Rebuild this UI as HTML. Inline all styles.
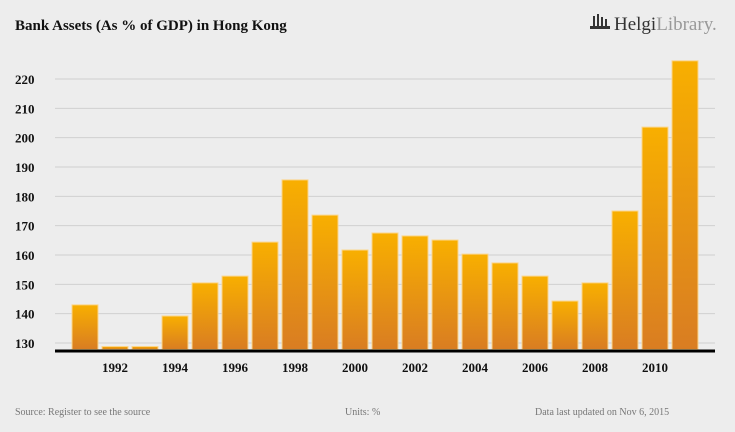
<!DOCTYPE html>
<html><head><meta charset="utf-8"><style>
body{margin:0;background:#ededed;}
svg{display:block;font-family:"Liberation Serif",serif;}
</style></head><body>
<svg width="735" height="432" viewBox="0 0 735 432">
<defs><linearGradient id="g" x1="0" y1="0" x2="0" y2="1"><stop offset="0" stop-color="#f8af00"/><stop offset="1" stop-color="#d97d22"/></linearGradient></defs>
<rect width="735" height="432" fill="#ededed"/>
<text x="15" y="30" font-size="15" font-weight="bold" fill="#111">Bank Assets (As % of GDP) in Hong Kong</text>
<g>
<g fill="#333"><rect x="593" y="16" width="2" height="11"/><rect x="597" y="14" width="2" height="13"/><rect x="601" y="17" width="2" height="10"/><rect x="605" y="19" width="2" height="8"/><rect x="590" y="26" width="20" height="3"/></g>
<text x="614" y="30" font-size="19" fill="#333">Helgi<tspan fill="#999">Library.</tspan></text>
</g>
<g id="grid"></g><g id="bars"></g><g id="xl"></g>
<line x1="55" y1="351" x2="715" y2="351" stroke="#000" stroke-width="3"/>
<text x="15" y="415" font-size="10" fill="#777">Source: Register to see the source</text>
<text x="345" y="415" font-size="10" fill="#777">Units: %</text>
<text x="535" y="415" font-size="10" fill="#777">Data last updated on Nov 6, 2015</text>
</svg>
<script>
const years=[1991,1992,1993,1994,1995,1996,1997,1998,1999,2000,2001,2002,2003,2004,2005,2006,2007,2008,2009,2010,2011];
const values=[143,128.3,128.4,139.2,150.5,152.8,164.4,185.6,173.6,161.7,167.5,166.5,165.1,160.3,157.3,152.8,144.3,150.5,175,203.6,226.2];
const yTicks=[130,140,150,160,170,180,190,200,210,220];
const NS="http://www.w3.org/2000/svg";
const y=v=>343-(v-130)*2.9333;
const x=yr=>115+(yr-1992)*30;
const base=349.5;
const g=document.getElementById('grid'),b=document.getElementById('bars'),xl=document.getElementById('xl');
function mk(tag,a,p){const e=document.createElementNS(NS,tag);for(const k in a)e.setAttribute(k,a[k]);p.appendChild(e);return e;}
yTicks.forEach(t=>{
 const l=mk('line',{x1:55,x2:715,y1:y(t),y2:y(t),stroke:'#d0d0d0','stroke-width':1},g);
 
 
 const tx=mk('text',{x:15,y:y(t)+5,'font-size':13,'font-weight':'bold',fill:'#111'},g);
 tx.textContent=t;
 
 
});
years.forEach((yr,i)=>{
 const top=Math.min(y(values[i]),base-3);
 const r=mk('rect',{x:x(yr)-13,y:top,width:26,height:base-top,fill:'url(#g)',stroke:'#fbd58a','stroke-width':1},b);
 
 
 if(yr%2===0){
  const t=mk('text',{x:x(yr),y:372,'font-size':13,'font-weight':'bold',fill:'#111','text-anchor':'middle'},xl);
  t.textContent=yr;
  
  
 }
});
</script>
</body></html>
